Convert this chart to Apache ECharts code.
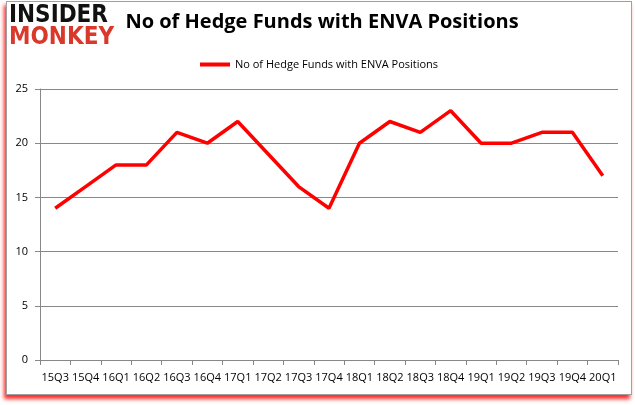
<!DOCTYPE html>
<html>
<head>
<meta charset="utf-8">
<script src="https://cdn.jsdelivr.net/npm/echarts@6/dist/echarts.min.js"></script>
<style>
html,body{margin:0;padding:0;background:#fff;}
#frame{position:absolute;left:6px;top:1px;width:624px;height:392px;border:1px solid #a0a0a0;box-shadow:-2px 4px 4px rgba(255,0,0,0.85);background:#fff;}
#main{position:absolute;left:0;top:0;width:635px;height:405px;}
</style>
</head>
<body>
<div id="frame"></div>
<div id="main"></div>
<script>
var categories = ['15Q3','15Q4','16Q1','16Q2','16Q3','16Q4','17Q1','17Q2','17Q3','17Q4','18Q1','18Q2','18Q3','18Q4','19Q1','19Q2','19Q3','19Q4','20Q1'];
var hedgeFunds = [14,16,18,18,21,20,22,19,16,14,20,22,21,23,20,20,21,21,17];
var seriesName = 'No of Hedge Funds with ENVA Positions';
var chart = echarts.init(document.getElementById('main'));
chart.setOption({
  animation:false,
  title:{text:'No of Hedge Funds with ENVA Positions',left:317,top:7,textAlign:'center',
    textStyle:{fontFamily:'Open Sans',fontWeight:'bold',fontSize:20,color:'#000'}},
  graphic:[
    {type:'text',left:9,top:4,style:{text:'INSIDER',fontFamily:'DejaVu Sans Condensed',fontWeight:'900',fontSize:24,fill:'#111'}},
    {type:'text',left:9,top:26,style:{text:'MONKEY',fontFamily:'DejaVu Sans Condensed',fontWeight:'900',fontSize:24,fill:'#d9382b'}}
  ],
  legend:{data:[seriesName],top:54,left:195,itemWidth:30,itemHeight:4,itemGap:3,icon:'rect',
    textStyle:{fontFamily:'Open Sans',fontSize:11,color:'#000'}},
  grid:{left:40,right:17,top:89,bottom:45},
  xAxis:{type:'category',data:categories,boundaryGap:true,
    axisLine:{lineStyle:{color:'#888'}},axisTick:{show:true,alignWithLabel:false,lineStyle:{color:'#888'}},
    axisLabel:{interval:0,fontFamily:'Open Sans',fontSize:11,color:'#000',margin:12}},
  yAxis:{type:'value',min:0,max:25,interval:5,
    axisLine:{show:true,lineStyle:{color:'#888'}},axisTick:{show:true,lineStyle:{color:'#888'}},
    splitLine:{lineStyle:{color:'#888'}},
    axisLabel:{fontFamily:'Open Sans',fontSize:11,color:'#000',margin:12}},
  series:[{name:seriesName,type:'line',data:hedgeFunds,showSymbol:false,symbol:'none',
    lineStyle:{color:'#ff0000',width:3.5},itemStyle:{color:'#ff0000'}}]
});
</script>
</body>
</html>
